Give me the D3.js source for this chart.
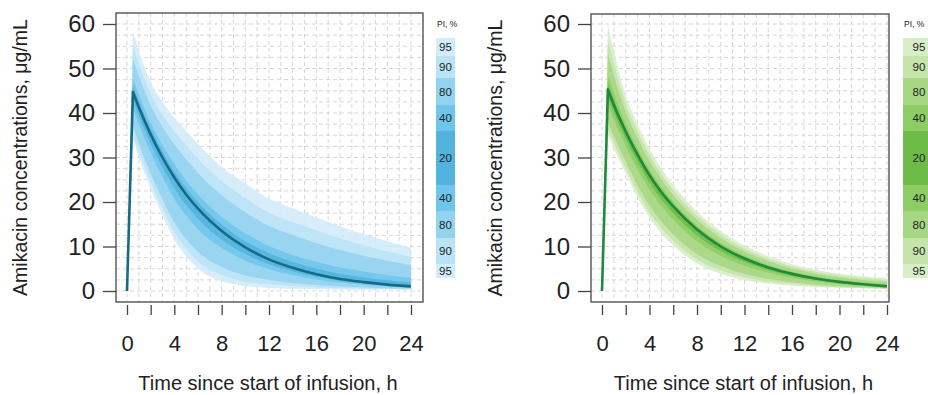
<!DOCTYPE html>
<html>
<head>
<meta charset="utf-8">
<script src="https://cdn.jsdelivr.net/npm/d3@7"></script>
<style>
  html, body { margin: 0; padding: 0; background: #fff; }
  svg { display: block; }
  text { font-family: "Liberation Sans", Arial, Helvetica, sans-serif; fill: #222; }
</style>
</head>
<body>
<svg id="chart" width="928" height="395"></svg>
<script>
// ---------------- DATA ----------------
const times = [0, 0.5, 1, 2, 3, 4, 5, 6, 8, 10, 12, 14, 16, 18, 20, 22, 24];
const xTicks = [0, 2, 4, 6, 8, 10, 12, 14, 16, 18, 20, 22, 24];
const xTickLabels = [0, 4, 8, 12, 16, 20, 24];
const yTicks = [0, 10, 20, 30, 40, 50, 60];
const legendLabels = ["95", "90", "80", "40", "20", "40", "80", "90", "95"];
const legendLevels = [95, 90, 80, 40, 20, 40, 80, 90, 95];
const yTitle = "Amikacin concentrations, \u03bcg/mL";
const xTitle = "Time since start of infusion, h";
const legendTitle = "PI, %";

// Blue panel (left)
const blueMedian = [0, 44.7, 41.3, 35.2, 30.0, 25.5, 21.7, 18.5, 13.5, 9.8, 7.1, 5.2, 3.75, 2.7, 2.0, 1.44, 1.04];
const blueU95 = [0, 58.4, 54, 47, 42.5, 39, 36, 33, 28, 24.2, 20.8, 18.6, 16.5, 14.5, 12.8, 11.2, 9.7];
const blueU90 = [0, 55.2, 51.1, 44.3, 39.6, 35.9, 32.7, 29.7, 24.7, 20.9, 17.6, 15.5, 13.6, 11.8, 10.3, 8.9, 7.7];
const blueU80 = [0, 52.2, 48.3, 41.7, 36.9, 32.9, 29.6, 26.5, 21.5, 17.7, 14.6, 12.6, 10.75, 9.2, 7.9, 6.8, 5.8];
const blueU40 = [0, 47.7, 44.1, 37.8, 32.75, 28.5, 24.8, 21.7, 16.7, 13.0, 10.1, 8.1, 6.55, 5.3, 4.4, 3.55, 2.95];
const blueU20 = [0, 46.1, 42.6, 36.4, 31.25, 26.85, 23.1, 19.95, 14.95, 11.2, 8.5, 6.5, 5.0, 3.9, 3.1, 2.4, 1.9];
const blueL20 = [0, 42.9, 39.4, 33.1, 27.8, 23.1, 19.3, 16.2, 11.6, 8.3, 6.0, 4.4, 3.2, 2.3, 1.7, 1.25, 0.91];
const blueL40 = [0, 41.1, 37.5, 31.1, 25.6, 20.7, 17.0, 13.9, 9.7, 6.8, 4.9, 3.6, 2.6, 1.9, 1.42, 1.05, 0.79];
const blueL80 = [0, 37.0, 33.2, 26.4, 20.6, 15.4, 11.7, 8.8, 5.4, 3.5, 2.5, 1.8, 1.35, 1.0, 0.8, 0.62, 0.51];
const blueL90 = [0, 35.3, 31.4, 24.5, 18.6, 13.2, 9.5, 6.6, 3.6, 2.1, 1.5, 1.1, 0.8, 0.63, 0.5, 0.44, 0.39];
const blueL95 = [0, 34, 30, 23, 17, 11.5, 7.8, 5, 2.2, 1.1, 0.7, 0.5, 0.4, 0.35, 0.3, 0.3, 0.3];

// Green panel (right)
const greenMedian = [0, 45.3, 41.8, 35.8, 30.6, 26.0, 22.2, 19.0, 13.8, 10.0, 7.3, 5.3, 3.85, 2.8, 2.05, 1.5, 1.05];
const greenU95 = [0, 59.8, 54, 44, 37.5, 32, 27.5, 23.8, 17.8, 13.5, 10.2, 7.8, 6.0, 4.8, 3.9, 3.3, 2.9];
const greenU90 = [0, 56.5, 51.2, 42.1, 35.9, 30.6, 26.3, 22.7, 16.9, 12.7, 9.5, 7.2, 5.5, 4.3, 3.45, 2.9, 2.45];
const greenU80 = [0, 53.3, 48.5, 40.3, 34.4, 29.3, 25.1, 21.6, 16.0, 11.9, 8.9, 6.7, 5.05, 3.9, 3.05, 2.5, 2.05];
const greenU40 = [0, 48.5, 44.5, 37.6, 32.1, 27.3, 23.4, 20.05, 14.7, 10.8, 7.95, 5.85, 4.32, 3.24, 2.45, 1.9, 1.45];
const greenU20 = [0, 46.75, 43.0, 36.6, 31.3, 26.6, 22.7, 19.5, 14.2, 10.35, 7.6, 5.55, 4.05, 3.0, 2.25, 1.7, 1.25];
const greenL20 = [0, 43.55, 40.1, 34.2, 29.0, 24.4, 20.6, 17.5, 12.5, 9.0, 6.5, 4.7, 3.4, 2.48, 1.82, 1.34, 0.95];
const greenL40 = [0, 41.8, 38.5, 32.6, 27.3, 22.8, 19.1, 16.0, 11.2, 7.9, 5.7, 4.1, 2.95, 2.15, 1.59, 1.18, 0.85];
const greenL80 = [0, 37.9, 34.7, 29.1, 23.7, 19.2, 15.6, 12.7, 8.3, 5.6, 3.8, 2.7, 1.95, 1.4, 1.08, 0.82, 0.62];
const greenL90 = [0, 36.2, 33.2, 27.6, 22.2, 17.6, 14.1, 11.3, 7.1, 4.6, 3.1, 2.1, 1.55, 1.1, 0.85, 0.66, 0.52];
const greenL95 = [0, 35, 32, 26.5, 21, 16.5, 13, 10.2, 6.2, 3.9, 2.5, 1.7, 1.2, 0.9, 0.7, 0.55, 0.45];

// ---------------- STYLE / LAYOUT ----------------
const panels = [
  {
    box: { l: 116, r: 423, t: 13, b: 302 }, xr: [127, 411], yr: [291, 24],
    yTitleX: 27, legendX: 436, legendW: 19,
    bands: [[blueU95, blueL95], [blueU90, blueL90], [blueU80, blueL80], [blueU40, blueL40], [blueU20, blueL20]],
    median: blueMedian,
    colors: { 95: "#d2ecf9", 90: "#bbe3f6", 80: "#94d3ef", 40: "#70c5ea", 20: "#52b4dd" },
    line: "#176a86"
  },
  {
    box: { l: 591, r: 889, t: 14, b: 302 }, xr: [602, 887], yr: [291, 24],
    yTitleX: 502, legendX: 903, legendW: 30,
    bands: [[greenU95, greenL95], [greenU90, greenL90], [greenU80, greenL80], [greenU40, greenL40], [greenU20, greenL20]],
    median: greenMedian,
    colors: { 95: "#d8eec7", 90: "#c4e4ab", 80: "#a8d784", 40: "#8ecc65", 20: "#6dbc47" },
    line: "#1e8a3c"
  }
];
const bandLevels = [95, 90, 80, 40, 20];
// legend segment edges (px, top to bottom)
const legendEdges = [38, 56, 78, 105, 131, 185, 211, 238, 264, 278];

const svg = d3.select("#chart");
const FONT = "'Liberation Sans', Arial, sans-serif";

panels.forEach((p, pi) => {
  const g = svg.append("g");
  const x = d3.scaleLinear().domain([0, 24]).range(p.xr);
  const y = d3.scaleLinear().domain([0, 60]).range(p.yr);
  const B = p.box;

  const clipId = "clip" + pi;
  g.append("clipPath").attr("id", clipId).append("rect")
    .attr("x", B.l).attr("y", B.t).attr("width", B.r - B.l).attr("height", B.b - B.t);

  // grid
  const grid = g.append("g").attr("clip-path", `url(#${clipId})`);
  const gx = d3.range(-1, 26, 1);
  const gy = d3.range(-2.5, 65, 2.5);
  grid.selectAll("line.gv").data(gx).join("line")
    .attr("x1", d => x(d)).attr("x2", d => x(d))
    .attr("y1", B.t).attr("y2", B.b)
    .attr("stroke", "#d2d2d2").attr("stroke-width", 0.9).attr("stroke-dasharray", "4,3");
  grid.selectAll("line.gh").data(gy).join("line")
    .attr("y1", d => y(d)).attr("y2", d => y(d))
    .attr("x1", B.l).attr("x2", B.r)
    .attr("stroke", "#d2d2d2").attr("stroke-width", 0.9).attr("stroke-dasharray", "4,3");

  const idx = d3.range(1, times.length);
  const lineGen = d3.line().curve(d3.curveMonotoneX);
  function bandPath(up, lo) {
    const upper = lineGen(idx.map(i => [x(times[i]), y(up[i])]));
    const lower = lineGen(idx.slice().reverse().map(i => [x(times[i]), y(lo[i])]));
    return `M${x(times[0])},${y(up[0])}` + upper.replace(/^M/, "L") + lower.replace(/^M/, "L") + "Z";
  }

  const plot = g.append("g").attr("clip-path", `url(#${clipId})`);
  plot.selectAll("path.band").data(p.bands).join("path")
    .attr("d", d => bandPath(d[0], d[1]))
    .attr("fill", (d, i) => p.colors[bandLevels[i]])
    .attr("fill-opacity", 0.88);

  const medPath = `M${x(times[0])},${y(p.median[0])}` +
    lineGen(idx.map(i => [x(times[i]), y(p.median[i])])).replace(/^M/, "L");
  plot.append("path").attr("d", medPath).attr("fill", "none")
    .attr("stroke", p.line).attr("stroke-width", 2.6).attr("stroke-linejoin", "round");

  // box
  g.append("rect").attr("x", B.l).attr("y", B.t).attr("width", B.r - B.l).attr("height", B.b - B.t)
    .attr("fill", "none").attr("stroke", "#555").attr("stroke-width", 1.4);

  // y axis
  const yAxis = g.append("g").attr("transform", `translate(${B.l},0)`)
    .call(d3.axisLeft(y).tickValues(yTicks).tickSize(13).tickPadding(8).tickFormat(d3.format("d")));
  yAxis.select(".domain").remove();
  yAxis.selectAll(".tick line").attr("stroke", "#444").attr("stroke-width", 1.3);
  yAxis.selectAll(".tick text").attr("font-size", 24).attr("fill", "#222").attr("font-family", FONT);

  // x axis
  const xAxis = g.append("g").attr("transform", `translate(0,${B.b + 3})`)
    .call(d3.axisBottom(x).tickValues(xTicks).tickSize(10).tickPadding(20)
      .tickFormat(d => xTickLabels.includes(d) ? d : ""));
  xAxis.select(".domain").remove();
  xAxis.selectAll(".tick line").attr("stroke", "#444").attr("stroke-width", 1.3);
  xAxis.selectAll(".tick text").attr("font-size", 22).attr("fill", "#222").attr("font-family", FONT);

  // titles
  g.append("text")
    .attr("transform", `translate(${p.yTitleX},${(B.t + B.b) / 2}) rotate(-90)`)
    .attr("text-anchor", "middle").attr("font-size", 19.5).text(yTitle);
  g.append("text")
    .attr("x", (p.xr[0] + p.xr[1]) / 2 - 1).attr("y", 390)
    .attr("text-anchor", "middle").attr("font-size", 20).text(xTitle);

  // legend
  const lg = g.append("g");
  lg.append("text").attr("x", p.legendX + 1).attr("y", 27).attr("font-size", 8.5).attr("fill", "#444").text(legendTitle);
  lg.selectAll("rect").data(legendLevels).join("rect")
    .attr("x", p.legendX).attr("width", p.legendW)
    .attr("y", (d, i) => legendEdges[i])
    .attr("height", (d, i) => legendEdges[i + 1] - legendEdges[i])
    .attr("fill", d => p.colors[d]);
  lg.selectAll("text.lab").data(legendLabels).join("text").attr("class", "lab")
    .attr("x", p.legendX + (pi === 0 ? p.legendW / 2 : 16))
    .attr("y", (d, i) => (legendEdges[i] + legendEdges[i + 1]) / 2 + 4)
    .attr("text-anchor", "middle").attr("font-size", 11.5).attr("fill", "#333")
    .text(d => d);
});
</script>
</body>
</html>
